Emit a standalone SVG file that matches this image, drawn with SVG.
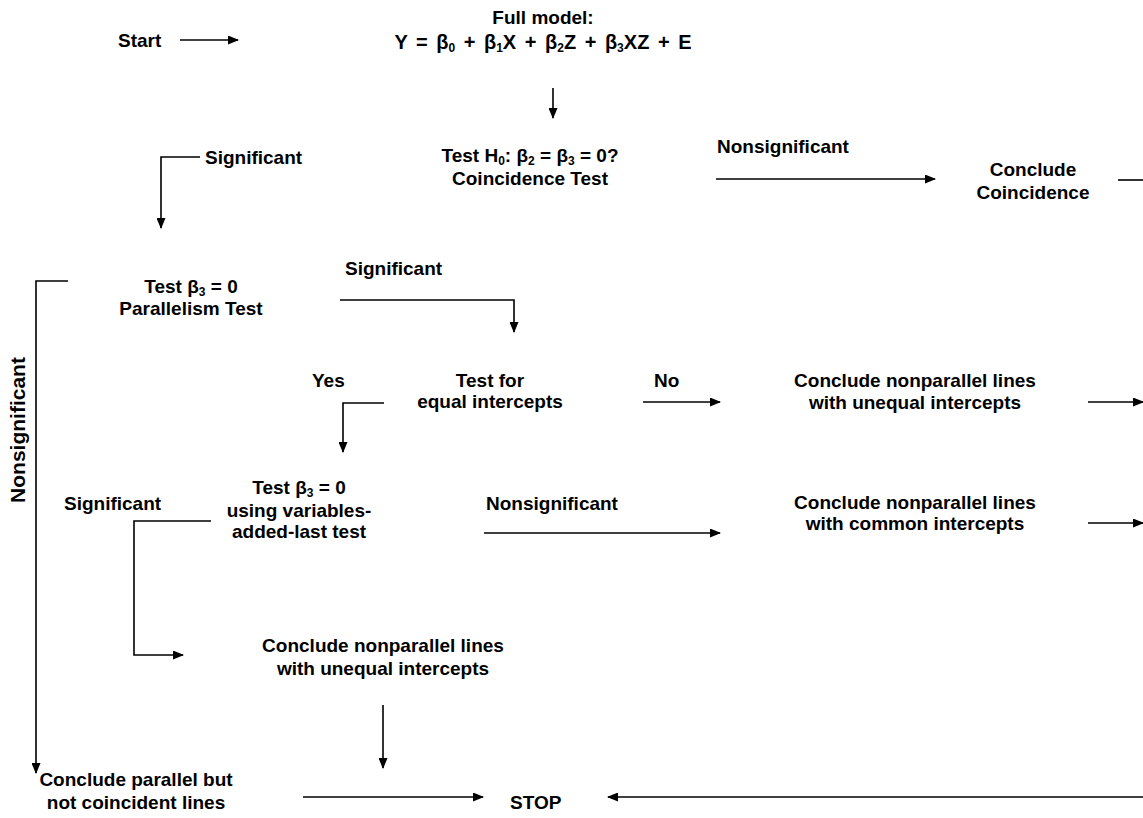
<svg xmlns="http://www.w3.org/2000/svg" width="1143" height="818" viewBox="0 0 1143 818">
<style>
text{font-family:"Liberation Sans",Arial,sans-serif;font-weight:bold;font-size:19px;fill:#000}
.c{text-anchor:middle}
.s{font-size:12px}
.ln{fill:none;stroke:#000;stroke-width:1.6}
.ar{fill:none;stroke:#000;stroke-width:1.6;marker-end:url(#ah)}
</style>
<defs>
<marker id="ah" markerUnits="userSpaceOnUse" markerWidth="11" markerHeight="9" refX="10" refY="4.5" orient="auto">
<path d="M0,0 L11,4.5 L0,9 Z" fill="#000"/>
</marker>
</defs>
<rect width="1143" height="818" fill="#fff"/>
<g id="start"><text x="118" y="47">Start</text></g>
<g id="full-model">
<text class="c" x="543" y="24">Full model:</text>
<text class="c" x="543" y="49" style="font-size:20px;word-spacing:3px">Y =  β<tspan class="s" dy="3">0</tspan><tspan dy="-3"> + β</tspan><tspan class="s" dy="3">1</tspan><tspan dy="-3">X + β</tspan><tspan class="s" dy="3">2</tspan><tspan dy="-3">Z  + β</tspan><tspan class="s" dy="3">3</tspan><tspan dy="-3">XZ  + E</tspan></text>
</g>
<g id="coincidence-test">
<text class="c" x="530" y="162">Test H<tspan class="s" dy="3">0</tspan><tspan dy="-3">: β</tspan><tspan class="s" dy="3">2</tspan><tspan dy="-3"> = β</tspan><tspan class="s" dy="3">3</tspan><tspan dy="-3"> = 0?</tspan></text>
<text class="c" x="530" y="185">Coincidence Test</text>
</g>
<g id="conclude-coincidence">
<text class="c" x="1033" y="176">Conclude</text>
<text class="c" x="1033" y="199">Coincidence</text>
</g>
<g id="parallelism-test">
<text class="c" x="191" y="293">Test β<tspan class="s" dy="3">3</tspan><tspan dy="-3"> = 0</tspan></text>
<text class="c" x="191" y="315">Parallelism Test</text>
</g>
<g id="equal-intercepts-test">
<text class="c" x="490" y="387">Test for</text>
<text class="c" x="490" y="408">equal intercepts</text>
</g>
<g id="conclude-nonparallel-unequal">
<text class="c" x="915" y="387">Conclude nonparallel lines</text>
<text class="c" x="915" y="409">with unequal intercepts</text>
</g>
<g id="variables-added-last-test">
<text class="c" x="299" y="494">Test β<tspan class="s" dy="3">3</tspan><tspan dy="-3"> = 0</tspan></text>
<text class="c" x="299" y="517">using variables-</text>
<text class="c" x="299" y="538">added-last test</text>
</g>
<g id="conclude-nonparallel-common">
<text class="c" x="915" y="509">Conclude nonparallel lines</text>
<text class="c" x="915" y="530">with common intercepts</text>
</g>
<g id="conclude-nonparallel-unequal-2">
<text class="c" x="383" y="652">Conclude nonparallel lines</text>
<text class="c" x="383" y="675">with unequal intercepts</text>
</g>
<g id="conclude-parallel">
<text class="c" x="136" y="786">Conclude parallel but</text>
<text class="c" x="136" y="809">not coincident lines</text>
</g>
<g id="stop"><text x="510" y="809">STOP</text></g>
<g id="labels">
<text x="205" y="164">Significant</text>
<text x="717" y="153">Nonsignificant</text>
<text x="345" y="275">Significant</text>
<text transform="translate(25,430) rotate(-90)" class="c" style="font-size:21px">Nonsignificant</text>
<text x="312" y="387">Yes</text>
<text x="654" y="387">No</text>
<text x="64" y="510">Significant</text>
<text x="486" y="510">Nonsignificant</text>
</g>
<g id="connectors">
<path class="ar" d="M180,40 H238"/>
<path class="ar" d="M553,88 V118"/>
<path class="ar" d="M200,157 H161 V228"/>
<path class="ar" d="M716,179 H935"/>
<path class="ln" d="M1118,180 H1143"/>
<path class="ar" d="M68,281 H36 V773"/>
<path class="ar" d="M340,300 H514 V332"/>
<path class="ar" d="M384,403 H343 V452"/>
<path class="ar" d="M643,402 H720"/>
<path class="ar" d="M1088,402 H1143"/>
<path class="ar" d="M211,521 H134 V655 H183"/>
<path class="ar" d="M484,533 H720"/>
<path class="ar" d="M1088,523 H1143"/>
<path class="ar" d="M383,705 V768"/>
<path class="ar" d="M303,797 H483"/>
<path class="ar" d="M1143,797 H608"/>
</g>
</svg>
